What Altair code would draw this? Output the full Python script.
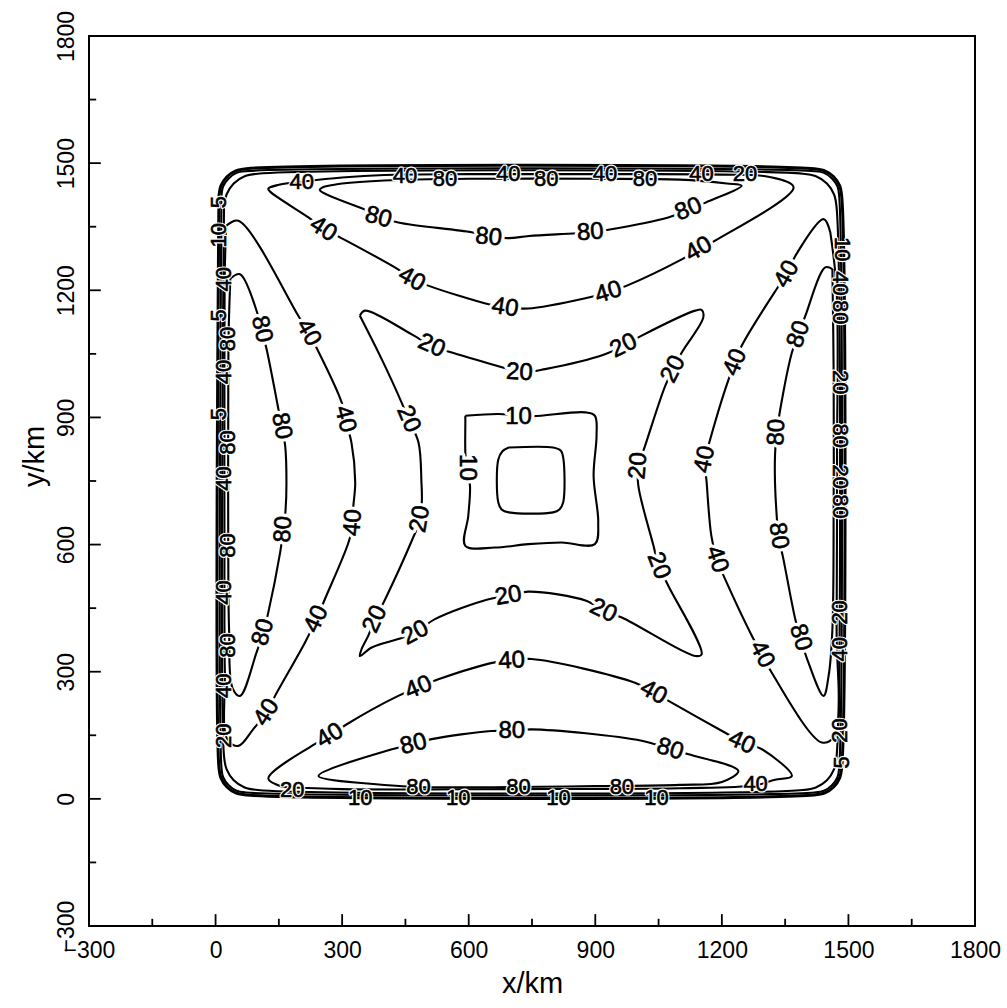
import altair as alt
import pandas as pd

# ---------------- contour lines (x km, y km) ----------------
ring5 = [(8, 1422), (13, 1447), (27, 1468), (48, 1482), (73, 1487), (1419, 1487), (1444, 1482),
         (1465, 1468), (1479, 1447), (1484, 1422), (1484, 74), (1479, 49), (1465, 28), (1444, 14),
         (1419, 9), (73, 9), (48, 14), (27, 28), (13, 49), (8, 74), (8, 1422)]
ring10 = [(14, 1423), (18, 1445), (31, 1464), (50, 1477), (72, 1481), (1420, 1481), (1442, 1477),
          (1461, 1464), (1474, 1445), (1478, 1423), (1478, 73), (1474, 51), (1461, 32), (1442, 19),
          (1420, 15), (72, 15), (50, 19), (31, 32), (18, 51), (14, 73), (14, 1423)]
ring20 = [(20, 1395), (26, 1426), (43, 1452), (69, 1469), (100, 1475), (1392, 1475), (1423, 1469),
          (1449, 1452), (1466, 1426), (1472, 1395), (1472, 101), (1466, 70), (1449, 44), (1423, 27),
          (1392, 21), (100, 21), (69, 27), (43, 44), (26, 70), (20, 101), (20, 1395)]

top80 = [(259, 1445), (247, 1437), (370, 1384), (386, 1375), (433, 1360), (607, 1337), (647, 1327),
         (695, 1323), (743, 1328), (888, 1337), (931, 1343), (1073, 1372), (1121, 1390), (1164, 1408),
         (1247, 1447), (1212, 1452), (1100, 1461), (900, 1463), (600, 1463), (400, 1459), (300, 1452),
         (259, 1445)]
top40 = [(204, 1456), (150, 1449), (125, 1440), (129, 1433), (220, 1372), (255, 1346), (295, 1325),
         (425, 1254), (465, 1228), (504, 1211), (647, 1167), (686, 1160), (741, 1157), (884, 1183),
         (931, 1195), (975, 1211), (1105, 1273), (1145, 1296), (1184, 1317), (1370, 1443), (1310, 1468),
         (1200, 1473), (900, 1474), (600, 1474), (400, 1472), (300, 1466), (204, 1456)]
left80 = [(35, 1228), (58, 1238), (101, 1140), (109, 1108), (121, 1061), (149, 919), (156, 880),
          (165, 833), (168, 746), (166, 683), (161, 636), (153, 581), (125, 440), (113, 393), (97, 345),
          (58, 243), (40, 262), (32, 400), (30, 600), (30, 900), (31, 1100), (35, 1228)]
left40 = [(25, 1352), (54, 1364), (196, 1140), (220, 1100), (239, 1065), (299, 935), (307, 896),
          (322, 841), (331, 747), (326, 683), (326, 652), (315, 605), (259, 471), (239, 424), (212, 369),
          (141, 243), (121, 204), (89, 164), (54, 125), (28, 140), (22, 300), (21, 600), (21, 1000),
          (22, 1250), (25, 1352)]
bottom80 = [(338, 38), (244, 54), (418, 117), (469, 129), (512, 141), (654, 160), (702, 160), (749, 164),
            (1010, 137), (1077, 117), (1121, 105), (1239, 66), (1200, 40), (1100, 33), (900, 30),
            (700, 28), (480, 28), (338, 38)]
bottom40 = [(160, 28), (125, 48), (228, 125), (271, 149), (311, 176), (433, 243), (481, 263), (528, 282),
            (662, 322), (702, 326), (749, 330), (994, 274), (1038, 251), (1081, 227), (1208, 156),
            (1247, 135), (1295, 117), (1366, 54), (1326, 45), (1279, 32), (1100, 25), (700, 23),
            (300, 23), (160, 28)]
right80 = [(1462, 1250), (1445, 1254), (1398, 1140), (1382, 1096), (1366, 1053), (1330, 865), (1326, 809),
           (1326, 746), (1330, 668), (1334, 621), (1346, 565), (1374, 424), (1386, 381), (1405, 322),
           (1441, 243), (1453, 290), (1462, 400), (1465, 700), (1465, 1000), (1462, 1250)]
right40 = [(1457, 1337), (1441, 1368), (1374, 1281), (1354, 1238), (1330, 1203), (1247, 1069),
           (1232, 1030), (1216, 990), (1168, 833), (1160, 801), (1164, 746), (1175, 621), (1188, 565),
           (1208, 518), (1271, 385), (1295, 341), (1318, 298), (1437, 133), (1468, 150), (1472, 400),
           (1473, 800), (1472, 1200), (1457, 1337)]
star20 = [(342, 1140), (354, 1152), (465, 1096), (512, 1069), (560, 1053), (694, 1014), (720, 1006),
          (781, 1014), (923, 1049), (967, 1069), (1010, 1093), (1137, 1152), (1152, 1154), (1156, 1136),
          (1105, 1053), (1085, 1014), (1066, 975), (1018, 833), (1002, 786), (1002, 739), (1038, 597),
          (1050, 550), (1073, 503), (1152, 341), (1137, 337), (963, 428), (919, 444), (880, 467),
          (741, 489), (694, 479), (647, 471), (520, 424), (473, 392), (433, 377), (370, 357), (342, 337),
          (346, 353), (362, 385), (378, 424), (402, 471), (465, 609), (485, 660), (489, 707), (488, 746),
          (481, 841), (457, 896), (441, 935), (394, 1037), (342, 1140)]
center10 = [(592, 904), (670, 908), (718, 905), (753, 903), (876, 912), (899, 904), (903, 857),
            (896, 762), (907, 652), (899, 601), (820, 605), (741, 601), (662, 593), (592, 597),
            (599, 668), (603, 739), (595, 782), (592, 817), (592, 888), (592, 904)]
inner = [(695, 829), (800, 829), (818, 822), (824, 805), (824, 700), (815, 683), (800, 676), (695, 676),
         (678, 683), (670, 700), (670, 800), (680, 820), (695, 829)]

outer_contours = {"ring5": ring5}
contours = {"ring10": ring10, "ring20": ring20, "top80": top80, "top40": top40,
            "left80": left80, "left40": left40, "bottom80": bottom80, "bottom40": bottom40,
            "right80": right80, "right40": right40, "star20": star20, "center10": center10,
            "inner": inner}

# ---------------- contour labels (text, x km, y km, angle deg) ----------------
inner_labels = [
    ("80", 386, 1372, 15), ("80", 647, 1325, 5), ("80", 888, 1337, 356), ("80", 1121, 1391, 338),
    ("40", 255, 1344, 32), ("40", 465, 1226, 29), ("40", 686, 1159, 9), ("40", 931, 1195, 343),
    ("40", 1145, 1297, 331),
    ("20", 512, 1069, 24), ("20", 720, 1006, 3), ("20", 967, 1069, 334),
    ("20", 1085, 1014, 297), ("20", 1002, 786, 275), ("20", 1050, 550, 69),
    ("20", 919, 444, 26), ("20", 694, 479, 350), ("20", 473, 392, 332),
    ("20", 378, 424, 295), ("20", 485, 660, 280), ("20", 457, 896, 67),
    ("40", 220, 1100, 60), ("40", 307, 896, 76), ("40", 326, 652, 275), ("40", 239, 424, 295),
    ("40", 121, 204, 303),
    ("80", 109, 1108, 77), ("80", 156, 880, 79), ("80", 161, 636, 273), ("80", 113, 393, 286),
    ("40", 271, 149, 329), ("40", 481, 263, 338), ("40", 702, 326, 357), ("40", 1038, 251, 29),
    ("40", 1247, 133, 24),
    ("80", 469, 129, 346), ("80", 702, 160, 0), ("80", 1077, 117, 17),
    ("40", 1354, 1238, 299), ("40", 1232, 1030, 292), ("40", 1160, 801, 282), ("40", 1188, 565, 72),
    ("40", 1295, 341, 62),
    ("80", 1382, 1096, 290), ("80", 1330, 865, 272), ("80", 1334, 621, 82), ("80", 1386, 381, 73),
    ("10", 718, 900, 0), ("10", 595, 782, 90),
]
edge_labels = [
    ("40", 204, 1455, 0), ("40", 449, 1469, 0), ("80", 544, 1463, 0), ("40", 694, 1474, 0),
    ("80", 784, 1463, 0), ("40", 923, 1474, 0), ("80", 1018, 1463, 0), ("40", 1152, 1474, 0),
    ("20", 1255, 1474, 0),
    ("20", 182, 20, 0), ("10", 343, 3, 0), ("80", 481, 27, 0), ("10", 575, 3, 0), ("80", 718, 27, 0),
    ("10", 813, 3, 0), ("80", 963, 29, 0), ("10", 1045, 3, 0), ("40", 1280, 34, 0),
    ("5", 7, 1408, 270), ("10", 7, 1330, 270), ("40", 21, 1226, 270), ("5", 7, 1141, 270),
    ("80", 30, 1085, 270), ("40", 21, 1007, 270), ("5", 7, 908, 270), ("80", 30, 841, 270),
    ("40", 21, 756, 270), ("80", 30, 598, 270), ("40", 21, 487, 270), ("80", 30, 362, 270),
    ("40", 21, 267, 270), ("20", 21, 149, 270),
    ("10", 1484, 1297, 90), ("40", 1481, 1216, 90), ("80", 1481, 1148, 90), ("20", 1481, 983, 90),
    ("80", 1481, 857, 90), ("20", 1481, 760, 90), ("80", 1481, 690, 90), ("20", 1481, 440, 270),
    ("40", 1481, 353, 270), ("20", 1481, 161, 270), ("5", 1484, 86, 270),
]

tick_values = [-150, 0, 150, 300, 450, 600, 750, 900, 1050, 1200, 1350, 1500, 1650]
axis_values = [-300, 0, 300, 600, 900, 1200, 1500, 1800]


# ---------------- tables ----------------
def to_rows(d):
    out = []
    for name, pts in d.items():
        for i, (x, y) in enumerate(pts):
            out.append({"seg": name, "i": i, "x": x, "y": y})
    return pd.DataFrame(out)


lines_df = to_rows(contours)
outer_df = to_rows(outer_contours)
in_df = pd.DataFrame(inner_labels, columns=["t", "x", "y", "a"])
ed_df = pd.DataFrame(edge_labels, columns=["t", "x", "y", "a"])

tk = []
for v in tick_values:
    L = 28 if v % 300 == 0 else 17
    tk.append({"v": v, "lo": -300, "hi": -300 + L})
tick_df = pd.DataFrame(tk)

xs = alt.Scale(domain=[-300, 1800], nice=False, zero=False)
ys = alt.Scale(domain=[-300, 1800], nice=False, zero=False)

FONT = "Liberation Sans"
xaxis = alt.Axis(values=axis_values, format="d", title="x/km", labelPadding=13,
                 labelBaseline="top", labelAlign="center",
                 titleX=443, titleY=66, titleAlign="center", titleBaseline="alphabetic")
yaxis = alt.Axis(values=axis_values, format="d", title="y/km", labelPadding=16,
                 labelAngle=270, labelAlign="center", labelBaseline="alphabetic",
                 titleAngle=270, titleX=-46, titleY=420, titleAlign="center",
                 titleBaseline="alphabetic")


def line_layer(df, width):
    return alt.Chart(df).mark_line(color="black", strokeWidth=width, interpolate="catmull-rom").encode(
        x=alt.X("x:Q", scale=xs, axis=xaxis),
        y=alt.Y("y:Q", scale=ys, axis=yaxis),
        detail="seg:N",
        order="i:Q",
    )


ticks_b = alt.Chart(tick_df).mark_rule(color="black", strokeWidth=1.8).encode(
    x=alt.X("v:Q", scale=xs, axis=xaxis),
    y=alt.Y("lo:Q", scale=ys, axis=yaxis),
    y2="hi:Q",
)
ticks_l = alt.Chart(tick_df).mark_rule(color="black", strokeWidth=1.8).encode(
    y=alt.Y("v:Q", scale=ys, axis=yaxis),
    x=alt.X("lo:Q", scale=xs, axis=xaxis),
    x2="hi:Q",
)


def text_layer(df, size, color, halo, weight=0.0):
    kw = dict(font=FONT, fontSize=size, color=color, align="center", baseline="middle")
    if halo:
        kw.update(stroke="white", strokeWidth=halo, strokeJoin="round")
    elif weight:
        kw.update(stroke=color, strokeWidth=weight)
    return alt.Chart(df).mark_text(**kw).encode(
        x=alt.X("x:Q", scale=xs, axis=xaxis),
        y=alt.Y("y:Q", scale=ys, axis=yaxis),
        text="t:N",
        angle=alt.Angle("a:Q", scale=None),
    )


chart = alt.layer(
    line_layer(lines_df, 2.1),
    line_layer(outer_df, 3.0),
    ticks_b,
    ticks_l,
    text_layer(in_df, 24, "white", 7),
    text_layer(in_df, 24, "black", 0, 0.6),
    text_layer(ed_df, 22, "white", 3),
    text_layer(ed_df, 22, "black", 0, 0.6),
).properties(
    width=886,
    height=890,
    padding={"left": 89, "top": 36, "right": 32, "bottom": 82},
    autosize="none",
    background="white",
).configure_view(
    stroke="black", strokeWidth=2
).configure_axis(
    grid=False, domain=False, ticks=False, tickSize=0,
    labelFont=FONT, labelFontSize=23, labelColor="black", labelFlush=False, labelOverlap=False,
    titleFont=FONT, titleFontSize=29, titleFontWeight="normal", titleColor="black",
)

chart.save("out.html", embed_options={"renderer": "svg", "actions": False})
